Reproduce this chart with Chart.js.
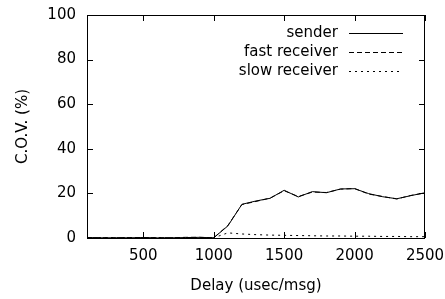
<!DOCTYPE html>
<html>
<head>
<meta charset="utf-8">
<script src="https://cdn.jsdelivr.net/npm/chart.js@4/dist/chart.umd.min.js"></script>
<style>
  html, body { margin: 0; padding: 0; background: #fff; }
  #wrap { width: 445px; height: 299px; }
</style>
</head>
<body>
<div id="wrap"><canvas id="cov"></canvas></div>
<script>
// delay in usec/msg
const delays = [100, 200, 300, 400, 500, 600, 700, 800, 900, 1000,
                1100, 1200, 1300, 1400, 1500, 1600, 1700, 1800, 1900, 2000,
                2100, 2200, 2300, 2400, 2500];
const sender = [0.2, 0.1, 0.1, 0.1, 0.2, 0.1, 0.1, 0.2, 0.3, 0.1,
                5.4, 15.1, 16.6, 17.8, 21.4, 18.4, 20.8, 20.3, 22.0, 22.1,
                19.9, 18.5, 17.6, 19.0, 20.3];
const fastReceiver = [0.2, 0.1, 0.1, 0.2, 0.2, 0.1, 0.1, 0.3, 0.3, 0.1,
                5.6, 15.0, 16.4, 17.9, 21.2, 18.6, 20.6, 20.4, 21.9, 22.2,
                19.7, 18.6, 17.5, 19.1, 20.2];
const slowReceiver = [0.1, 0.1, 0.1, 0.1, 0.1, 0.1, 0.1, 0.1, 0.1, 0.1,
                2.3, 1.8, 1.5, 1.3, 1.2, 1.1, 1.0, 0.9, 0.9, 0.8,
                0.8, 0.7, 0.7, 0.6, 0.6];
const xTicks = [500, 1000, 1500, 2000, 2500];
const yTicks = [0, 20, 40, 60, 80, 100];

// the original lettering is a bit wide, DejaVu matches its metrics best
const FONT = '"DejaVu Sans", sans-serif';
const SIZE = 15;

function pts(ys) {
    return delays.map((d, i) => ({ x: d, y: ys[i] }));
}

// gnuplot style: box border, inward ticks on all four sides, key top right
const frame = {
    id: 'frame',
    afterDatasetsDraw(chart) {
        const { ctx, chartArea: a, scales } = chart;
        ctx.save();
        ctx.strokeStyle = '#000';
        ctx.lineWidth = 1;
        ctx.strokeRect(a.left + 0.5, a.top + 0.5, a.right - a.left - 1, a.bottom - a.top);
        ctx.beginPath();
        xTicks.forEach(v => {
            const x = Math.round(scales.x.getPixelForValue(v)) + 0.5;
            ctx.moveTo(x, a.bottom); ctx.lineTo(x, a.bottom - 6);
            ctx.moveTo(x, a.top); ctx.lineTo(x, a.top + 6);
        });
        yTicks.forEach(v => {
            const y = Math.round(scales.y.getPixelForValue(v)) + 0.5;
            ctx.moveTo(a.left, y); ctx.lineTo(a.left + 6, y);
            ctx.moveTo(a.right, y); ctx.lineTo(a.right - 6, y);
        });
        ctx.stroke();

        ctx.font = SIZE + 'px ' + FONT;
        ctx.fillStyle = '#000';
        ctx.textAlign = 'right';
        ctx.textBaseline = 'middle';
        chart.data.datasets.forEach((ds, i) => {
            const y = a.top + 18 + i * 19;
            ctx.fillText(ds.label, a.left + 251, y);
            ctx.beginPath();
            ctx.setLineDash(ds.borderDash || []);
            ctx.moveTo(a.left + 262, y + 0.5);
            ctx.lineTo(a.left + 316, y + 0.5);
            ctx.stroke();
        });
        ctx.restore();
    }
};

new Chart(document.getElementById('cov'), {
    type: 'line',
    data: {
        datasets: [
            { label: 'sender', data: pts(sender), borderColor: '#000', borderWidth: 1, order: 0 },
            { label: 'fast receiver', data: pts(fastReceiver), borderColor: '#000', borderWidth: 1, borderDash: [5, 3], order: 1 },
            { label: 'slow receiver', data: pts(slowReceiver), borderColor: '#000', borderWidth: 1, borderDash: [2, 4], order: 2 }
        ]
    },
    options: {
        responsive: true,
        maintainAspectRatio: false,
        animation: false,
        elements: { point: { radius: 0 }, line: { tension: 0 } },
        layout: { padding: { left: 0, right: 20, top: 15, bottom: 0 } },
        plugins: { legend: { display: false }, tooltip: { enabled: false } },
        scales: {
            x: {
                type: 'linear',
                min: 100,
                max: 2500,
                afterBuildTicks: s => { s.ticks = xTicks.map(v => ({ value: v })); },
                afterFit: s => { s.height = 61; s.paddingLeft = 0; s.paddingRight = 0; },
                grid: { display: false, drawTicks: false },
                border: { display: false },
                ticks: { color: '#000', font: { family: FONT, size: SIZE }, padding: 9, maxRotation: 0, autoSkip: false,
                         callback: v => String(v) },
                title: { display: true, text: 'Delay (usec/msg)', color: '#000', font: { family: FONT, size: SIZE }, padding: { top: 2, bottom: 4 } }
            },
            y: {
                min: 0,
                max: 100,
                afterBuildTicks: s => { s.ticks = yTicks.map(v => ({ value: v })); },
                afterFit: s => { s.width = 87; s.paddingTop = 0; s.paddingBottom = 0; },
                grid: { display: false, drawTicks: false },
                border: { display: false },
                ticks: { color: '#000', font: { family: FONT, size: SIZE }, padding: 11, callback: v => String(v) },
                title: { display: true, text: 'C.O.V. (%)', color: '#000', font: { family: FONT, size: SIZE }, padding: { top: 14, bottom: 4 } }
            }
        }
    },
    plugins: [frame]
});
</script>
</body>
</html>
